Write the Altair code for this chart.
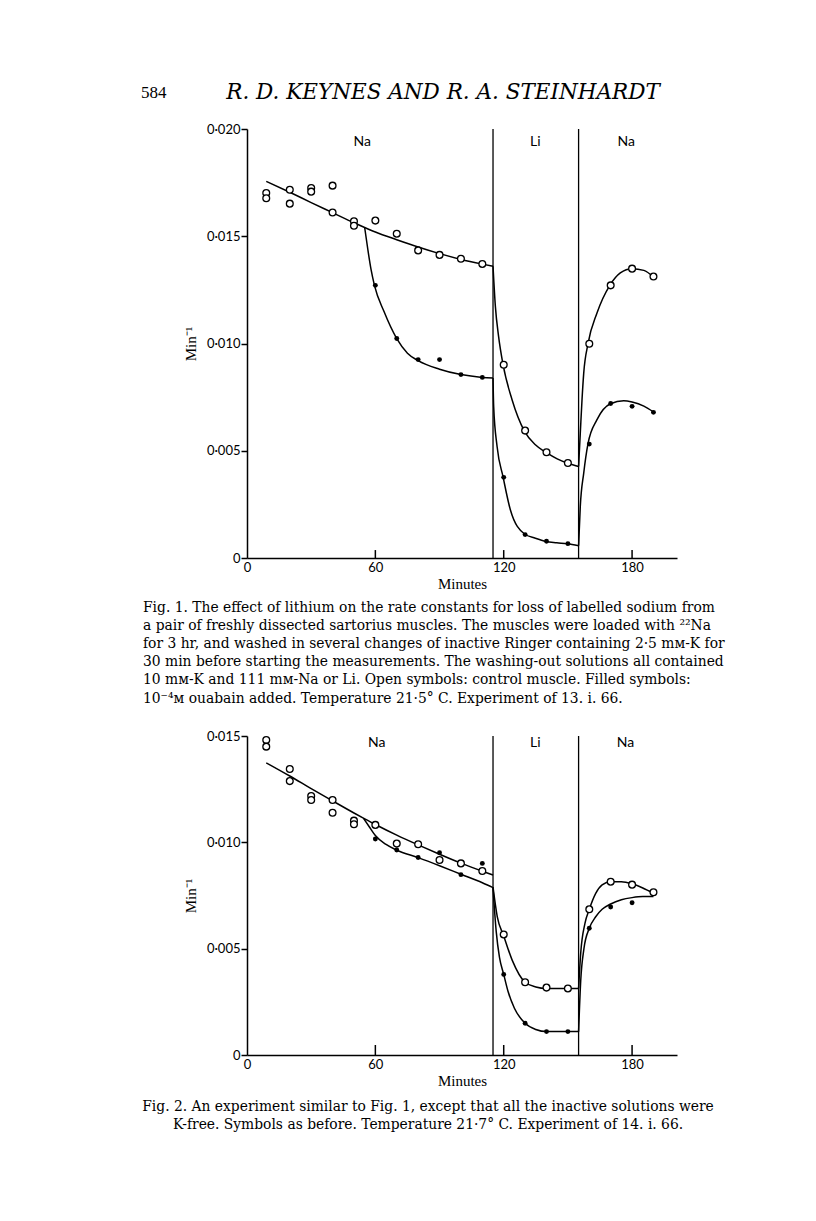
import altair as alt
import pandas as pd

# ---------------- data (rate constants, units of 0.001 min^-1) ----------------
# Fig. 1 measured points
F1_OPEN_X = [9, 9, 20, 20, 30, 30, 40, 40, 50, 50, 60, 70, 80, 90, 100, 110, 120, 130, 140, 150, 160, 170, 180, 190]
F1_OPEN_Y = [17.02, 16.77, 17.17, 16.52, 17.25, 17.08, 17.36, 16.11, 15.70, 15.49, 15.73, 15.12, 14.34, 14.13,
             13.95, 13.71, 9.01, 5.94, 4.93, 4.43, 9.99, 12.71, 13.49, 13.12]
F1_FILL_X = [60, 70, 80, 90, 100, 110, 120, 130, 140, 150, 160, 170, 180, 190]
F1_FILL_Y = [12.71, 10.23, 9.25, 9.25, 8.55, 8.42, 3.76, 1.09, 0.78, 0.67, 5.31, 7.20, 7.07, 6.79]

# Fig. 1 fitted curves
F1_OPEN_NA1_X = [9, 20, 30, 40, 50, 55, 60, 70, 80, 90, 100, 110, 115]
F1_OPEN_NA1_Y = [17.56, 17.05, 16.57, 16.1, 15.63, 15.41, 15.2, 14.84, 14.5, 14.19, 13.92, 13.7, 13.6]
F1_OPEN_LI_X = [115, 116.1, 117.6, 119.7, 123.9, 129.6, 134.8, 139.8, 145, 149.6, 155]
F1_OPEN_LI_Y = [13.6, 11.73, 10.33, 9.01, 7.38, 5.93, 5.28, 4.92, 4.62, 4.43, 4.27]
F1_OPEN_NA2_X = [155, 155.8, 156.6, 157.4, 159.4, 163.6, 169.6, 174.5, 180, 185.5, 190]
F1_OPEN_NA2_Y = [4.27, 5.83, 7.38, 8.62, 9.99, 11.42, 12.71, 13.29, 13.49, 13.41, 13.1]
F1_FILL_NA1_X = [55, 56.5, 58, 59.6, 64, 70, 75, 80, 90, 100, 110, 115]
F1_FILL_NA1_Y = [15.41, 14.37, 13.44, 12.7, 11.5, 10.23, 9.55, 9.2, 8.8, 8.55, 8.42, 8.39]
F1_FILL_LI_X = [115, 115.3, 116.9, 119.7, 123.1, 129.6, 134.8, 139.8, 144.8, 149.8, 155]
F1_FILL_LI_Y = [8.39, 7.07, 5.2, 3.78, 2.25, 1.13, 0.92, 0.77, 0.71, 0.66, 0.57]
F1_FILL_NA2_X = [155, 155.8, 157.4, 159.4, 163.6, 169.9, 176.1, 180, 185.5, 190]
F1_FILL_NA2_Y = [0.57, 2.41, 3.96, 5.33, 6.45, 7.19, 7.33, 7.27, 7.08, 6.81]

# Fig. 2 measured points
F2_OPEN_X = [9, 9, 20, 20, 30, 30, 40, 40, 50, 50, 60, 70, 80, 90, 100, 110, 120, 130, 140, 150, 160, 170, 180, 190]
F2_OPEN_Y = [14.81, 14.50, 13.45, 12.88, 12.18, 11.99, 11.99, 11.39, 11.02, 10.85, 10.82, 9.94, 9.91, 9.17,
             9.01, 8.65, 5.67, 3.42, 3.17, 3.13, 6.85, 8.15, 8.01, 7.65]
F2_FILL_X = [60, 70, 80, 90, 100, 110, 120, 130, 140, 150, 160, 170, 180]
F2_FILL_Y = [10.16, 9.64, 9.29, 9.51, 8.48, 9.01, 3.79, 1.49, 1.10, 1.10, 5.96, 6.96, 7.16]

# Fig. 2 fitted curves
F2_OPEN_NA1_X = [9, 20, 30, 40, 50, 54.4, 60, 70, 80, 90, 100, 110, 115]
F2_OPEN_NA1_Y = [13.74, 13.12, 12.53, 11.95, 11.38, 11.14, 10.84, 10.34, 9.88, 9.44, 9.02, 8.64, 8.46]
F2_OPEN_LI_X = [115, 117, 120, 124, 130, 135, 140, 150, 155]
F2_OPEN_LI_Y = [7.9, 6.5, 5.6, 4.45, 3.42, 3.2, 3.13, 3.13, 3.13]
F2_OPEN_NA2_X = [155, 156, 158, 160, 163, 166, 170, 175, 180, 185, 190]
F2_OPEN_NA2_Y = [3.13, 4.8, 6.2, 6.85, 7.6, 8.0, 8.15, 8.15, 8.05, 7.85, 7.6]
F2_FILL_NA1_X = [54.4, 57.3, 60, 65, 70, 80, 90, 100, 110, 115]
F2_FILL_NA1_Y = [11.14, 10.71, 10.32, 9.9, 9.63, 9.28, 8.9, 8.5, 8.1, 7.87]
F2_FILL_LI_X = [115, 116.5, 118, 120, 122, 125, 130, 135, 140, 150, 155]
F2_FILL_LI_Y = [7.85, 5.8, 4.6, 3.79, 3.0, 2.2, 1.49, 1.2, 1.1, 1.1, 1.1]
F2_FILL_NA2_X = [155, 156, 157.5, 160, 163, 166, 170, 175, 180, 185, 190]
F2_FILL_NA2_Y = [1.1, 3.5, 5.0, 5.96, 6.5, 6.85, 7.1, 7.3, 7.4, 7.45, 7.45]

# solution changes (minutes) and region labels
CHANGE_X = [115, 155]
REGION_TEXT = ["Na", "Li", "Na"]
REGION_X1 = [53.9, 134.8, 177.3]
REGION_X2 = [60.6, 134.8, 176.9]
XTICKS = [60, 120, 180]
Y1_TICKS = [0, 0.005, 0.010, 0.015, 0.020]
Y2_TICKS = [0, 0.005, 0.010, 0.015]

HEADER_PAGE = "584"
HEADER_TITLE = "R. D. KEYNES AND R. A. STEINHARDT"
CAPTION1 = [
    "Fig. 1. The effect of lithium on the rate constants for loss of labelled sodium from",
    "a pair of freshly dissected sartorius muscles. The muscles were loaded with \u00b2\u00b2Na",
    "for 3 hr, and washed in several changes of inactive Ringer containing 2\u00b75 m\u1d0d-K for",
    "30 min before starting the measurements. The washing-out solutions all contained",
    "10 m\u1d0d-K and 111 m\u1d0d-Na or Li. Open symbols: control muscle. Filled symbols:",
    "10\u207b\u2074\u1d0d ouabain added. Temperature 21\u00b75\u00b0 C. Experiment of 13. i. 66.",
]
CAPTION2 = [
    "Fig. 2. An experiment similar to Fig. 1, except that all the inactive solutions were",
    "K-free. Symbols as before. Temperature 21\u00b77\u00b0 C. Experiment of 14. i. 66.",
]

# ---------------- layout / style ----------------
W = 430
H = 926          # spans both figures (shared canvas)
H1 = 429         # fig 1 plot height
F2_TOP = 607     # fig 2 plot top within canvas
SANS = "Lato"
SERIF = "Liberation Serif"
CAPSERIF = "DejaVu Serif"
K = 0.001

def pts(xs, ys):
    return pd.DataFrame({"x": xs, "y": [v * K for v in ys]})

def curves(segs):
    rows = []
    for name, (xs, ys) in segs.items():
        for a, b in zip(xs, ys):
            rows.append({"x": a, "y": b * K, "seg": name})
    return pd.DataFrame(rows)

LABEL_EXPR = "datum.value == 0 ? '0' : replace(format(datum.value, '.3f'), '.', '\u00b7')"

def make_fig(open_x, open_y, fill_x, fill_y, segs, ymax, yticks, yrange, xoffset, region_x, region_y, tick_len):
    xenc = alt.X("x:Q",
                 scale=alt.Scale(domain=[0, 201], nice=False, zero=False),
                 axis=alt.Axis(values=[0] + XTICKS, tickSize=0, labelPadding=3, orient="bottom",
                               offset=xoffset, grid=False, title="Minutes", titleFont=SERIF,
                               titleFontSize=15, titleFontWeight="normal", titlePadding=2,
                               labelFont=SANS, labelFontSize=13, labelColor="black",
                               domainColor="black", domainWidth=1.5, titleColor="black",
                               labelFlush=False))
    yenc = alt.Y("y:Q",
                 scale=alt.Scale(domain=[0, ymax], range=yrange, nice=False, zero=False),
                 axis=alt.Axis(values=yticks, labelExpr=LABEL_EXPR, orient="left", tickSize=6,
                               tickColor="black", tickWidth=1.5, labelPadding=1, grid=False,
                               title="Min\u207b\u00b9", titleFont=SERIF, titleFontSize=15,
                               titleFontWeight="normal", titlePadding=8, titleColor="black",
                               labelFont=SANS, labelFontSize=13, labelColor="black",
                               domainColor="black", domainWidth=1.5))
    rules_df = pd.DataFrame({"x": CHANGE_X, "y": [0.0, 0.0], "y2": [ymax, ymax]})
    rules = alt.Chart(rules_df).mark_rule(color="black", strokeWidth=1.3).encode(
        x=xenc, y=yenc, y2="y2:Q")
    ticks_df = pd.DataFrame({"x": XTICKS, "y": [0.0] * 3, "y2": [tick_len] * 3})
    ticks = alt.Chart(ticks_df).mark_rule(color="black", strokeWidth=1.5).encode(
        x=xenc, y=yenc, y2="y2:Q")
    lines = alt.Chart(curves(segs)).mark_line(color="black", strokeWidth=1.5,
                                              interpolate="monotone").encode(
        x=xenc, y=yenc, detail="seg:N")
    opn = alt.Chart(pts(open_x, open_y)).mark_point(
        shape="circle", filled=True, fill="white", stroke="black", strokeWidth=1.3,
        size=46, opacity=1).encode(x=xenc, y=yenc)
    fil = alt.Chart(pts(fill_x, fill_y)).mark_circle(color="black", size=24, opacity=1).encode(
        x=xenc, y=yenc)
    lab_df = pd.DataFrame({"x": region_x, "y": [region_y] * 3, "t": REGION_TEXT})
    labs = alt.Chart(lab_df).mark_text(font=SANS, fontSize=14, color="black").encode(
        x=xenc, y=yenc, text="t:N")
    return alt.layer(rules, ticks, lines, opn, fil, labs)


fig1 = make_fig(
    F1_OPEN_X, F1_OPEN_Y, F1_FILL_X, F1_FILL_Y,
    {"on1": (F1_OPEN_NA1_X, F1_OPEN_NA1_Y), "ol": (F1_OPEN_LI_X, F1_OPEN_LI_Y),
     "on2": (F1_OPEN_NA2_X, F1_OPEN_NA2_Y), "fn1": (F1_FILL_NA1_X, F1_FILL_NA1_Y),
     "fl": (F1_FILL_LI_X, F1_FILL_LI_Y), "fn2": (F1_FILL_NA2_X, F1_FILL_NA2_Y)},
    0.020, Y1_TICKS, [H1, 0], -(H - H1), REGION_X1, 0.01941, 0.00037)

fig2 = make_fig(
    F2_OPEN_X, F2_OPEN_Y, F2_FILL_X, F2_FILL_Y,
    {"on1": (F2_OPEN_NA1_X, F2_OPEN_NA1_Y), "ol": (F2_OPEN_LI_X, F2_OPEN_LI_Y),
     "on2": (F2_OPEN_NA2_X, F2_OPEN_NA2_Y), "fn1": (F2_FILL_NA1_X, F2_FILL_NA1_Y),
     "fl": (F2_FILL_LI_X, F2_FILL_LI_Y), "fn2": (F2_FILL_NA2_X, F2_FILL_NA2_Y)},
    0.015, Y2_TICKS, [H, F2_TOP], 0, REGION_X2, 0.01466, 0.00047)

one = pd.DataFrame({"k": [0]})
page_no = alt.Chart(one).mark_text(font=SERIF, fontSize=17, align="left", baseline="middle",
                                   color="black").encode(
    x=alt.value(-106), y=alt.value(-36), text=alt.value(HEADER_PAGE))
head = alt.Chart(one).mark_text(font=CAPSERIF, fontSize=21.5, fontStyle="italic", align="center",
                                baseline="middle", color="black").encode(
    x=alt.value(196), y=alt.value(-36), text=alt.value(HEADER_TITLE))
cap1 = alt.Chart(one).mark_text(font=CAPSERIF, fontSize=13.85, align="left", baseline="top",
                                lineHeight=18.1, color="black").encode(
    x=alt.value(-104), y=alt.value(472), text=alt.value(CAPTION1))
cap2 = alt.Chart(one).mark_text(font=CAPSERIF, fontSize=13.85, align="center", baseline="top",
                                lineHeight=18.1, color="black").encode(
    x=alt.value(181), y=alt.value(971), text=alt.value(CAPTION2))

chart = alt.layer(fig1, fig2, page_no, head, cap1, cap2).resolve_scale(
    x="independent", y="independent"
).properties(
    width=W, height=H,
    autosize=alt.AutoSizeParams(type="none"),
    padding={"left": 239, "top": 121, "right": 131, "bottom": 130},
).configure(background="white").configure_view(stroke=None)

chart.save("out.html", embed_options={"renderer": "svg", "actions": False})
